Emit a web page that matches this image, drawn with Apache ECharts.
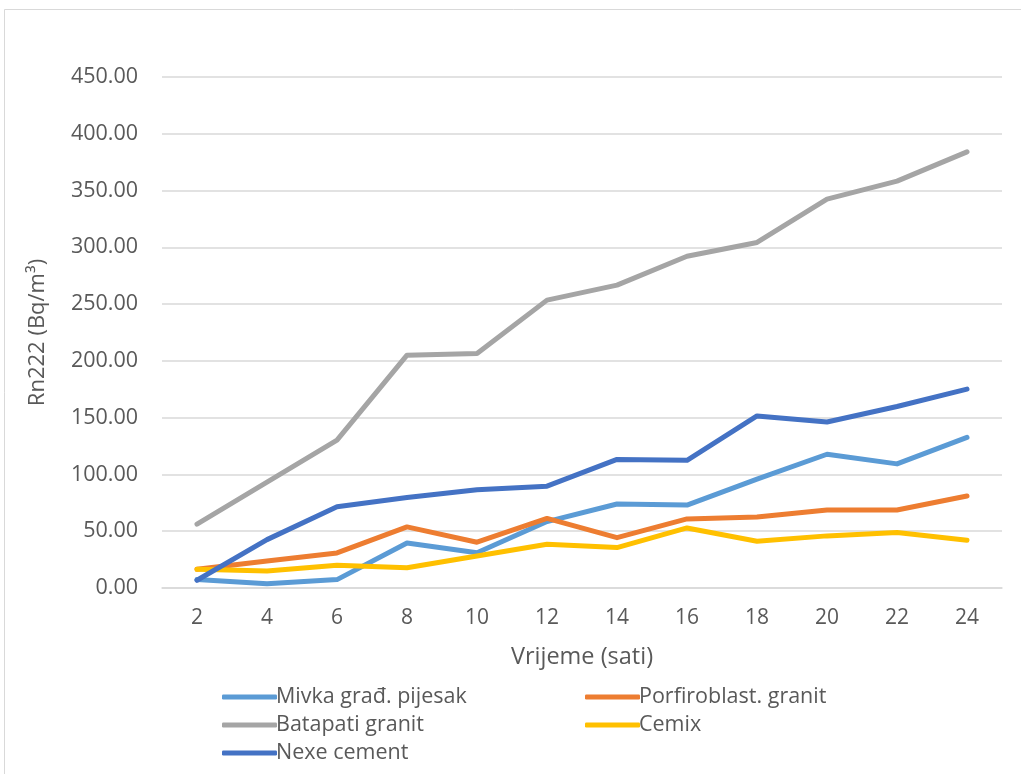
<!DOCTYPE html>
<html>
<head>
<meta charset="utf-8">
<script src="https://cdn.jsdelivr.net/npm/echarts@6/dist/echarts.min.js"></script>
<style>
html,body{margin:0;padding:0;background:#fff;}
#c{width:1021px;height:774px;}
</style>
</head>
<body>
<div id="c"></div>
<script>
const categories = ['2','4','6','8','10','12','14','16','18','20','22','24'];
const mivka = [7.4, 3.8, 7.4, 39.7, 31.0, 58.5, 74.0, 73.0, 95.8, 117.8, 109.3, 132.6];
const porfiroblast = [16.5, 23.8, 30.9, 53.8, 40.3, 61.3, 44.3, 60.8, 62.6, 68.7, 68.7, 81.0];
const batapati = [56.2, 93.2, 130.2, 205.0, 206.5, 253.5, 266.7, 292.2, 304.3, 342.4, 358.3, 384.1];
const cemix = [16.5, 15.0, 20.0, 17.9, 28.2, 38.5, 35.6, 52.9, 41.2, 45.9, 48.8, 42.1];
const nexe = [6.8, 42.6, 71.5, 79.7, 86.6, 89.7, 113.2, 112.4, 151.5, 146.2, 159.8, 175.2];
const seriesNames = ['Mivka građ. pijesak','Porfiroblast. granit','Batapati granit','Cemix','Nexe cement'];
const seriesColors = ['#5B9BD5','#ED7D31','#A5A5A5','#FFC000','#4472C4'];
const seriesData = [mivka, porfiroblast, batapati, cemix, nexe];
const yTicks = {min:0, max:450, interval:50};

const FONT = '"Open Sans", sans-serif';
const chart = echarts.init(document.getElementById('c'), null, {renderer:'canvas'});
const legendText = {color:'#595959', fontSize:21.5, fontFamily:FONT, lineHeight:21, padding:[0,0,0,-6]};
chart.setOption({
  backgroundColor:'#fff',
  animation:false,
  graphic:[{type:'rect', shape:{x:4.5,y:9.5,width:1030,height:800}, style:{fill:'none', stroke:'#d9d9d9', lineWidth:1}}],
  grid:{left:162, right:19, top:77, bottom:186},
  legend:[
    {data:[seriesNames[0],seriesNames[2],seriesNames[4]], orient:'vertical', left:217, top:681, itemWidth:55, itemHeight:5, itemGap:6, icon:'roundRect', textStyle:legendText},
    {data:[seriesNames[1],seriesNames[3]], orient:'vertical', left:580, top:681, itemWidth:55, itemHeight:5, itemGap:6, icon:'roundRect', textStyle:legendText}
  ],
  xAxis:{
    type:'category', data:categories, boundaryGap:true,
    axisLine:{lineStyle:{color:'#d9d9d9', width:1.5}}, axisTick:{show:false},
    axisLabel:{color:'#595959', fontSize:21, fontFamily:FONT, margin:20},
    name:'Vrijeme (sati)', nameLocation:'middle', nameGap:57,
    nameTextStyle:{color:'#595959', fontSize:23.5, fontFamily:FONT}
  },
  yAxis:{
    type:'value', min:yTicks.min, max:yTicks.max, interval:yTicks.interval,
    axisLine:{show:false}, axisTick:{show:false},
    splitLine:{lineStyle:{color:'#d9d9d9', width:1.5}},
    axisLabel:{color:'#595959', fontSize:21.5, fontFamily:FONT, margin:24, formatter:v=>v.toFixed(2)},
    name:'Rn222 (Bq/m³)', nameLocation:'middle', nameGap:113,
    nameTextStyle:{color:'#595959', fontSize:22, fontFamily:FONT}
  },
  series: seriesNames.map((n,i)=>({
    name:n, type:'line', data:seriesData[i], showSymbol:false, symbol:'none',
    color:seriesColors[i],
    lineStyle:{color:seriesColors[i], width:5, cap:'round', join:'round'},
    itemStyle:{color:seriesColors[i]}
  }))
});
</script>
</body>
</html>
